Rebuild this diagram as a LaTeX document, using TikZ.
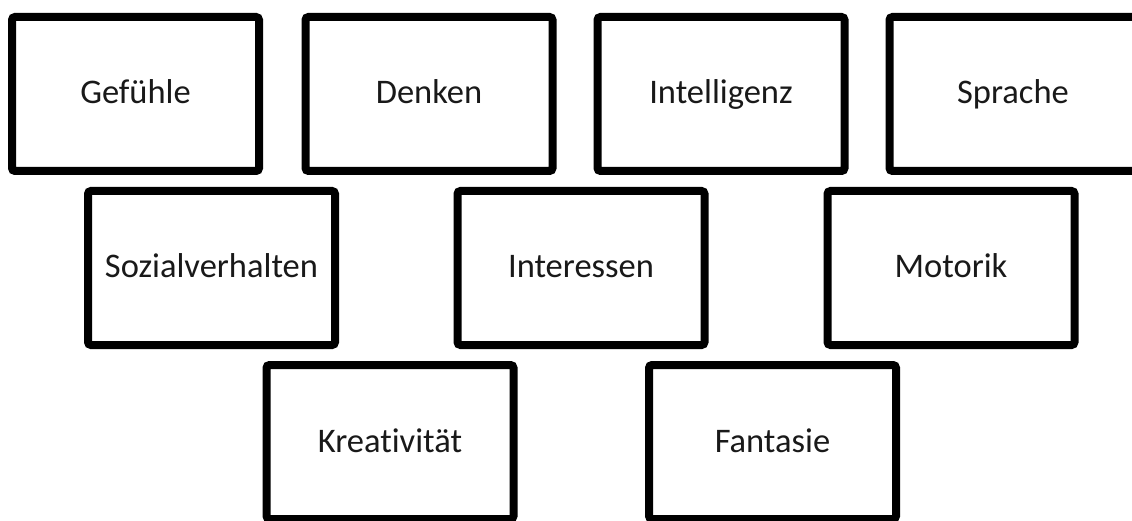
\documentclass[tikz,border=0pt]{standalone}
\usepackage{fontspec}
\setmainfont{Carlito}[Ligatures=NoCommon]
\usetikzlibrary{shadows}
\begin{document}
\begin{tikzpicture}[x=1pt,y=-1pt,
  card/.style={draw=black, line width=8pt, rounded corners=3pt, fill=white,
    minimum width=247pt, minimum height=154pt, inner sep=0pt,
    text height=25pt, text depth=5pt,
    font=\fontsize{34.5}{40}\selectfont, text=black!90,
    drop shadow={shadow xshift=1.5pt, shadow yshift=-2.5pt, fill=black, opacity=0.22}}]
\useasboundingbox (0,0) rectangle (1132,521);
\clip (0,0) rectangle (1132,521);
\fill[white] (0,0) rectangle (1132,521);
\node[card] (gef) at (135.5,94) {Gefühle};
\node[card] (den) at (429,94) {Denken};
\node[card] (int) at (721,94) {Intelligenz};
\node[card] (spr) at (1013,94) {Sprache};
\node[card] (soz) at (211.5,268) {Sozialverhalten};
\node[card] (inr) at (581,268) {Interessen};
\node[card] (mot) at (951,268) {Motorik};
\node[card] (kre) at (390,442) {Kreativität};
\node[card] (fan) at (772.5,442) {Fantasie};
\end{tikzpicture}
\end{document}
